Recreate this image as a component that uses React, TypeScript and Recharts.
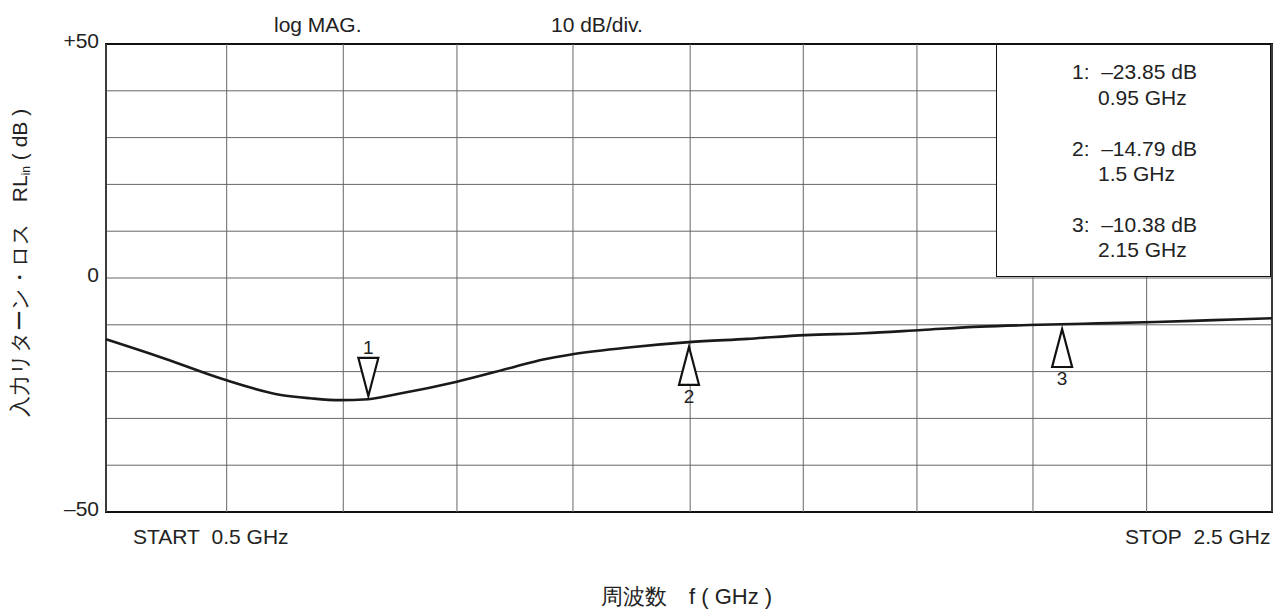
import React from 'react'
import {
  ComposedChart,
  Line,
  Scatter,
  XAxis,
  YAxis,
  CartesianGrid,
  ReferenceArea,
  ReferenceLine,
} from 'recharts'

// frequency (GHz) and input return loss (dB)
const freqs = [0.5, 0.6, 0.7, 0.8, 0.85, 0.9, 0.95, 1.0, 1.1, 1.2, 1.25, 1.3, 1.4, 1.5, 1.6, 1.7, 1.8, 1.9, 2.0, 2.1, 2.2, 2.3, 2.4, 2.5]
const rlValues = [-13.1, -17.2, -21.6, -25.0, -25.7, -26.1, -25.9, -24.8, -22.2, -19.0, -17.4, -16.3, -14.8, -13.7, -13.0, -12.2, -11.8, -11.1, -10.4, -10.0, -9.7, -9.4, -9.0, -8.6]

// marker tips
const markerFreqs = [0.95, 1.5, 2.14]
const markerValues = [-25.2, -14.7, -10.9]
const markerNames = ['1', '2', '3']
const markerDown = [true, false, false]

const markerReadouts = [
  ['1:  –23.85 dB', '0.95 GHz'],
  ['2:  –14.79 dB', '1.5 GHz'],
  ['3:  –10.38 dB', '2.15 GHz'],
]

// vertical divisions as they sit in the scanned graticule (nominally 0.2 GHz)
const xGrid = [0.5, 0.707, 0.907, 1.102, 1.301, 1.502, 1.696, 1.891, 2.09, 2.285, 2.5]
const yTicks = [-50, -40, -30, -20, -10, 0, 10, 20, 30, 40, 50]

const trace = freqs.map((f, i) => ({ f, db: rlValues[i] }))
const markers = markerFreqs.map((f, i) => ({ f, db: markerValues[i], name: markerNames[i], down: markerDown[i] }))

const FONT = '"Liberation Sans", Arial, sans-serif'
const FS = 21

const yLabel = (v: number) => (v === 50 ? '+50' : v === 0 ? '0' : v === -50 ? '–50' : '')

function YTick(props: any) {
  const { x, y, payload } = props
  const s = yLabel(payload.value)
  if (!s) return null
  return (
    <text x={x} y={y - 3} dy="0.355em" textAnchor="end" fontSize={FS} fontFamily={FONT} fill="#222">
      {s}
    </text>
  )
}

function MarkerShape(props: any) {
  const { cx, cy, payload } = props
  const h = 38
  const w = 10
  if (payload.down) {
    return (
      <g>
        <path d={`M${cx - w},${cy - h} L${cx + w},${cy - h} L${cx},${cy} Z`} fill="#fff" stroke="#111" strokeWidth={2.2} />
        <text x={cx} y={cy - h - 4} textAnchor="middle" fontSize={19} fontFamily={FONT} fill="#222">{payload.name}</text>
      </g>
    )
  }
  return (
    <g>
      <path d={`M${cx},${cy} L${cx - w},${cy + h} L${cx + w},${cy + h} Z`} fill="#fff" stroke="#111" strokeWidth={2.2} />
      <text x={cx} y={cy + h + 18} textAnchor="middle" fontSize={19} fontFamily={FONT} fill="#222">{payload.name}</text>
    </g>
  )
}

const txt: React.CSSProperties = {
  position: 'absolute',
  fontFamily: FONT,
  fontSize: FS,
  color: '#222',
  whiteSpace: 'nowrap',
  lineHeight: 1,
}

export default function App() {
  return (
    <div style={{ position: 'absolute', left: 0, top: 0, width: 1282, height: 614, background: '#fff' }}>
      <ComposedChart width={1282} height={614} margin={{ top: 44, right: 10, bottom: 102, left: 46 }}>
        <CartesianGrid stroke="#666" strokeWidth={1} vertical={false} />
        <XAxis
          type="number"
          dataKey="f"
          domain={[0.5, 2.5]}
          ticks={xGrid}
          tick={false}
          axisLine={false}
          tickLine={false}
          height={0}
        />
        <YAxis
          type="number"
          dataKey="db"
          domain={[-50, 50]}
          ticks={yTicks}
          axisLine={false}
          tickLine={false}
          width={60}
          tickMargin={1}
          tick={<YTick />}
        />
        {xGrid.map((t) => (
          <ReferenceLine key={t} x={t} stroke="#666" strokeWidth={1} />
        ))}
        <ReferenceArea x1={0.5} x2={2.5} y1={-50} y2={50} fill="none" stroke="#111" strokeWidth={2} ifOverflow="visible" />
        <Line
          data={trace}
          type="monotone"
          dataKey="db"
          stroke="#1a1a1a"
          strokeWidth={2.6}
          dot={false}
          isAnimationActive={false}
        />
        <Scatter data={markers} dataKey="db" shape={<MarkerShape />} isAnimationActive={false} />
      </ComposedChart>

      <div style={{ ...txt, left: 274, top: 14 }}>log MAG.</div>
      <div style={{ ...txt, left: 551, top: 14 }}>10 dB/div.</div>

      <div
        style={{
          position: 'absolute',
          left: 996,
          top: 44,
          width: 275,
          height: 233,
          background: '#fff',
          border: '1.5px solid #111',
          boxSizing: 'border-box',
        }}
      />
      {markerReadouts.map((r, i) => (
        <React.Fragment key={i}>
          <div style={{ ...txt, left: 1072, top: 61 + i * 76.5, whiteSpace: 'pre' }}>{r[0]}</div>
          <div style={{ ...txt, left: 1098, top: 87 + i * 76 }}>{r[1]}</div>
        </React.Fragment>
      ))}

      <div style={{ ...txt, left: 133, top: 526 }}>START&nbsp;&nbsp;0.5 GHz</div>
      <div style={{ ...txt, left: 1125, top: 526 }}>STOP&nbsp;&nbsp;2.5 GHz</div>

      <div style={{ ...txt, left: 601, top: 586, fontSize: 22 }}>周波数　f ( GHz )</div>

      <div
        style={{
          ...txt,
          left: 20,
          top: 263,
          transform: 'translate(-50%, -50%) rotate(-90deg)',
        }}
      >
        入力リターン・ロス　RL<span style={{ fontSize: 12, verticalAlign: -3 }}>in</span> ( dB )
      </div>
    </div>
  )
}
